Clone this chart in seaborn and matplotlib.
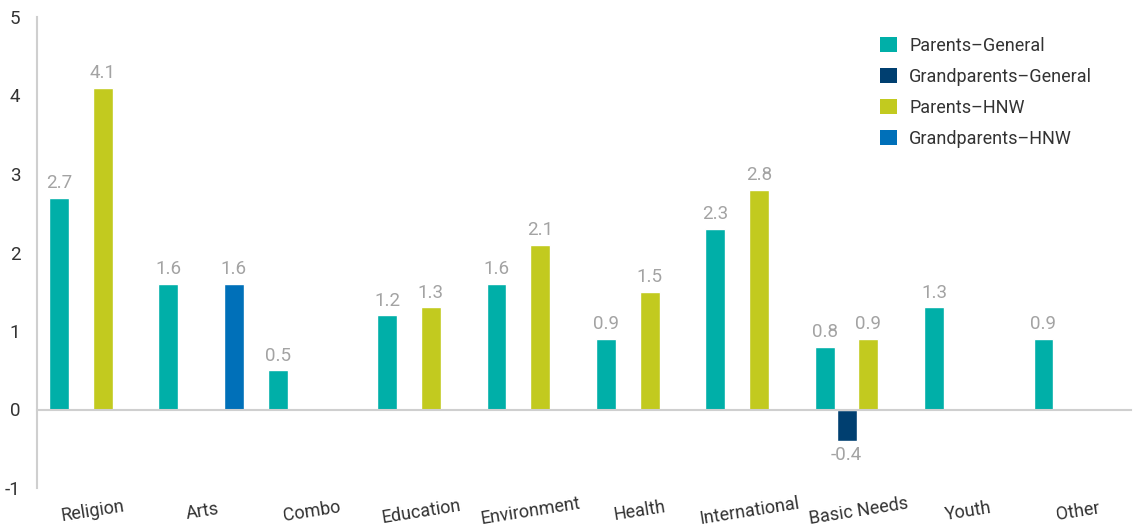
import numpy as np
import pandas as pd
import matplotlib
matplotlib.use("Agg")
import matplotlib.pyplot as plt
from matplotlib.patches import Patch
import seaborn as sns

categories = ["Religion", "Arts", "Combo", "Education", "Environment",
              "Health", "International", "Basic Needs", "Youth", "Other"]
series = ["Parents\u2013General", "Grandparents\u2013General",
          "Parents\u2013HNW", "Grandparents\u2013HNW"]

parents_general = [2.7, 1.6, 0.5, 1.2, 1.6, 0.9, 2.3, 0.8, 1.3, 0.9]
grandparents_general = [np.nan, np.nan, np.nan, np.nan, np.nan,
                        np.nan, np.nan, -0.4, np.nan, np.nan]
parents_hnw = [4.1, np.nan, np.nan, 1.3, 2.1, 1.5, 2.8, 0.9, np.nan, np.nan]
grandparents_hnw = [np.nan, 1.6, np.nan, np.nan, np.nan,
                    np.nan, np.nan, np.nan, np.nan, np.nan]

colors = ["#00afa8", "#003f70", "#c2ca1f", "#0070b9"]
y_ticks = [-1, 0, 1, 2, 3, 4, 5]

sns.set_theme(style="white")
plt.rcParams["font.family"] = ["Roboto", "DejaVu Sans"]

frames = []
for name, vals in zip(series, [parents_general, grandparents_general,
                               parents_hnw, grandparents_hnw]):
    frames.append(pd.DataFrame({"category": categories, "series": name, "value": vals}))
df = pd.concat(frames, ignore_index=True)

fig = plt.figure(figsize=(11.36, 5.30), dpi=100)
ax = fig.add_axes([37 / 1136, 1 - 488 / 530, (1131 - 37) / 1136, (488 - 17) / 530])

sns.barplot(data=df, x="category", y="value", hue="series", order=categories,
            hue_order=series, palette=colors, width=0.8, gap=0.09,
            saturation=1, errorbar=None, ax=ax, legend=False)

grey = "#cfcfcf"
for c in ax.containers:
    ax.bar_label(c, fmt="{:.1f}", padding=4, color="#a3a3a3", fontsize=13.5)

ax.set_ylim(-1, 5)
ax.set_xlim(-0.5, len(categories) - 0.5)
ax.set_yticks(y_ticks)
ax.set_yticklabels([str(t) for t in y_ticks])
ax.set_xlabel("")
ax.set_ylabel("")

for s in ["top", "right"]:
    ax.spines[s].set_visible(False)
ax.spines["left"].set_color(grey)
ax.spines["left"].set_linewidth(1.5)
ax.spines["bottom"].set_position(("data", 0))
ax.spines["bottom"].set_color(grey)
ax.spines["bottom"].set_linewidth(1.5)

ax.tick_params(axis="y", direction="in", length=11, width=1.5, color=grey,
               labelsize=13.5, labelcolor="#333333", pad=12)

ax.set_xticks(range(len(categories)))
ax.set_xticklabels(categories, rotation=9, ha="center", rotation_mode="anchor")
ax.tick_params(axis="x", which="major", length=0, labelsize=13,
               labelcolor="#333333", pad=67)
ax.set_xticks(np.arange(0.5, len(categories), 1.0), minor=True)
ax.tick_params(axis="x", which="minor", direction="in", length=9, width=1.5,
               color=grey)

handles = [Patch(facecolor=c, edgecolor="none") for c in colors]
ax.legend(handles, series, loc="upper left", bbox_to_anchor=(0.756, 0.993),
          frameon=False, fontsize=13, handlelength=0.9, handleheight=0.9,
          handletextpad=0.7, labelspacing=0.72, labelcolor="#333333")

fig.savefig("out.png", dpi=100)
